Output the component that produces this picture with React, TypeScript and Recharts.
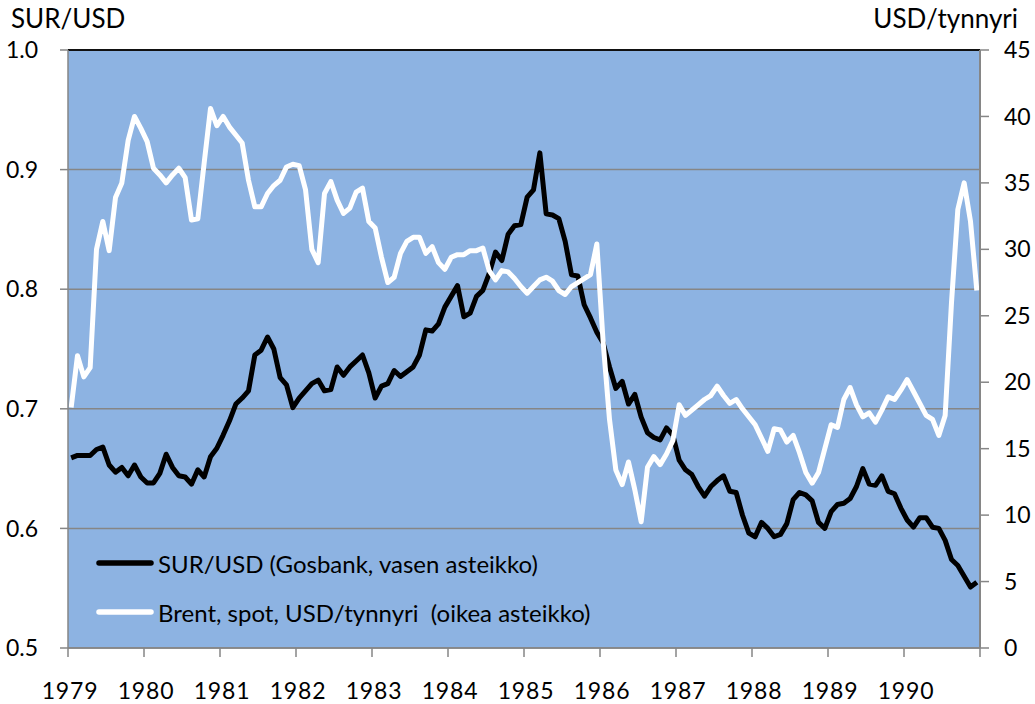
import { CartesianGrid, Line, LineChart, ReferenceLine, XAxis, YAxis } from "recharts";

const FONT = "Lato, 'Open Sans', sans-serif";
const PLOT_BG = "#8DB3E2";
const GRID = "#868686";

const START_YEAR = 1979;
const YEAR_TICKS = [1979, 1980, 1981, 1982, 1983, 1984, 1985, 1986, 1987, 1988, 1989, 1990, 1991];
const LEFT_TICKS = [0.5, 0.6, 0.7, 0.8, 0.9, 1.0];
const RIGHT_TICKS = [0, 5, 10, 15, 20, 25, 30, 35, 40, 45];

const SUR_NAME = "SUR/USD (Gosbank, vasen asteikko)";
const BRENT_NAME = "Brent, spot, USD/tynnyri  (oikea asteikko)";

// monthly, Jan 1979 .. Dec 1990
const surUsd = [
  0.659, 0.661, 0.661, 0.661, 0.666, 0.668, 0.653, 0.647, 0.651, 0.644, 0.653, 0.643,
  0.638, 0.638, 0.646, 0.662, 0.651, 0.644, 0.643, 0.637, 0.649, 0.643, 0.66, 0.667,
  0.678, 0.69, 0.704, 0.709, 0.715, 0.745, 0.749, 0.76, 0.75, 0.726, 0.72, 0.701,
  0.709, 0.715, 0.721, 0.724, 0.715, 0.716, 0.735, 0.728, 0.735, 0.74, 0.745, 0.73,
  0.709, 0.719, 0.721, 0.732, 0.727, 0.731, 0.735, 0.745, 0.766, 0.765, 0.771, 0.785,
  0.794, 0.803, 0.777, 0.78, 0.794, 0.799, 0.813, 0.831, 0.824, 0.846, 0.853, 0.854,
  0.877, 0.883, 0.914, 0.863, 0.862, 0.859, 0.84, 0.812, 0.811, 0.787, 0.776, 0.764,
  0.755, 0.735, 0.717, 0.723, 0.704, 0.712, 0.693, 0.68, 0.676, 0.674, 0.684, 0.678,
  0.657, 0.649, 0.645, 0.635, 0.627, 0.635, 0.64, 0.644, 0.631, 0.63, 0.611, 0.596,
  0.593, 0.605, 0.6, 0.593, 0.595, 0.604, 0.624, 0.63, 0.628, 0.623, 0.605, 0.6,
  0.614, 0.62, 0.621, 0.625, 0.635, 0.65, 0.637, 0.636, 0.644, 0.631, 0.629, 0.617,
  0.607, 0.601, 0.609, 0.609, 0.601, 0.6, 0.59, 0.574, 0.569, 0.56, 0.551, 0.555,
];

const brent = [
  18.1, 22.0, 20.4, 21.1, 30.0, 32.1, 29.9, 33.9, 35.0, 38.2, 40.0, 39.1,
  38.1, 36.1, 35.6, 35.0, 35.6, 36.1, 35.4, 32.2, 32.3, 36.5, 40.6, 39.3,
  40.0, 39.2, 38.6, 38.0, 35.2, 33.2, 33.2, 34.2, 34.8, 35.2, 36.2, 36.4,
  36.3, 34.5, 30.0, 29.0, 34.2, 35.1, 33.7, 32.7, 33.1, 34.3, 34.6, 32.1,
  31.6, 29.4, 27.5, 27.9, 29.7, 30.6, 30.9, 30.9, 29.7, 30.2, 29.0, 28.5,
  29.4, 29.6, 29.6, 29.9, 29.9, 30.1, 28.4, 27.7, 28.4, 28.3, 27.8, 27.2,
  26.7, 27.2, 27.7, 27.9, 27.6, 26.9, 26.6, 27.2, 27.5, 27.8, 28.1, 30.4,
  23.0, 17.2, 13.4, 12.3, 14.0, 11.9, 9.5, 13.6, 14.4, 13.8, 14.6, 15.6,
  18.3, 17.5, 17.9, 18.3, 18.7, 19.0, 19.7, 19.0, 18.4, 18.7, 18.0, 17.4,
  16.8, 15.8, 14.8, 16.5, 16.4, 15.5, 16.0, 14.7, 13.2, 12.4, 13.2, 15.0,
  16.8, 16.6, 18.7, 19.6, 18.3, 17.4, 17.7, 17.0, 17.9, 18.9, 18.7, 19.4,
  20.2, 19.3, 18.4, 17.5, 17.2, 16.0, 17.5, 26.0, 33.0, 35.0, 32.1, 26.9,
];

const data = surUsd.map((v, i) => ({
  t: START_YEAR + (i + 0.5) / 12,
  sur: v,
  brent: brent[i],
}));

function YearTick({ x, y, payload }: any) {
  if (payload.value === 1991) return <g />;
  return (
    <text
      x={x + 2}
      y={y}
      dy={40}
      textAnchor="middle"
      fontSize={23}
      letterSpacing={0.8}
      fill="#000"
      fontFamily={FONT}
    >
      {payload.value}
    </text>
  );
}

function LegendBox() {
  const rows = [
    { name: SUR_NAME, color: "#000", top: 563 },
    { name: BRENT_NAME, color: "#fff", top: 612 },
  ];
  return (
    <>
      {rows.map((r) => (
        <div
          key={r.name}
          style={{
            position: "absolute",
            left: 96,
            top: r.top - 15,
            height: 30,
            display: "flex",
            alignItems: "center",
            whiteSpace: "pre",
            fontSize: 24,
            color: "#000",
          }}
        >
          <svg width={58} height={10} style={{ marginRight: 4 }}>
            <line x1={3} y1={5} x2={55} y2={5} stroke={r.color} strokeWidth={5.5} strokeLinecap="round" />
          </svg>
          <span>{r.name}</span>
        </div>
      ))}
    </>
  );
}

export default function App() {
  const tickStyle = { fontSize: 23, fill: "#000", fontFamily: FONT };
  return (
    <div style={{ position: "relative", width: 1035, height: 704, background: "#fff", fontFamily: FONT }}>
      <style>{"body{margin:0}"}</style>
      <div style={{ position: "absolute", left: 11, top: 2, fontSize: 26 }}>SUR/USD</div>
      <div style={{ position: "absolute", right: 17, top: 2, fontSize: 26 }}>USD/tynnyri</div>
      <LineChart width={1035} height={704} data={data} margin={{ top: 50, right: 10, left: 8, bottom: 16 }}>
        <CartesianGrid
          yAxisId="left"
          vertical={false}
          fill={PLOT_BG}
          fillOpacity={1}
          stroke={GRID}
          strokeWidth={1.5}
        />
        <XAxis
          dataKey="t"
          type="number"
          domain={[1979, 1991]}
          ticks={YEAR_TICKS}
          allowDataOverflow
          tick={<YearTick />}
          tickSize={9}
          tickMargin={2}
          height={40}
          axisLine={{ stroke: GRID, strokeWidth: 1.5 }}
          tickLine={{ stroke: GRID, strokeWidth: 1.5 }}
        />
        <YAxis
          yAxisId="left"
          domain={[0.5, 1]}
          ticks={LEFT_TICKS}
          tickFormatter={(v) => v.toFixed(1)}
          width={60}
          tickSize={8}
          tickMargin={22}
          tick={tickStyle}
          axisLine={{ stroke: GRID, strokeWidth: 1.5 }}
          tickLine={{ stroke: GRID, strokeWidth: 1.5 }}
        />
        <YAxis
          yAxisId="right"
          orientation="right"
          domain={[0, 45]}
          ticks={RIGHT_TICKS}
          width={45}
          tickSize={9}
          tickMargin={15}
          tick={tickStyle}
          axisLine={{ stroke: GRID, strokeWidth: 2 }}
          tickLine={{ stroke: GRID, strokeWidth: 1.5 }}
        />
        <ReferenceLine yAxisId="left" y={1} stroke="#111" strokeWidth={2} />
        <Line
          yAxisId="left"
          dataKey="sur"
          name={SUR_NAME}
          type="linear"
          stroke="#000"
          strokeWidth={5}
          strokeLinejoin="round"
          dot={false}
          isAnimationActive={false}
        />
        <Line
          yAxisId="right"
          dataKey="brent"
          name={BRENT_NAME}
          type="linear"
          stroke="#fff"
          strokeWidth={5}
          strokeLinejoin="round"
          dot={false}
          isAnimationActive={false}
        />
      </LineChart>
      <LegendBox />
    </div>
  );
}
